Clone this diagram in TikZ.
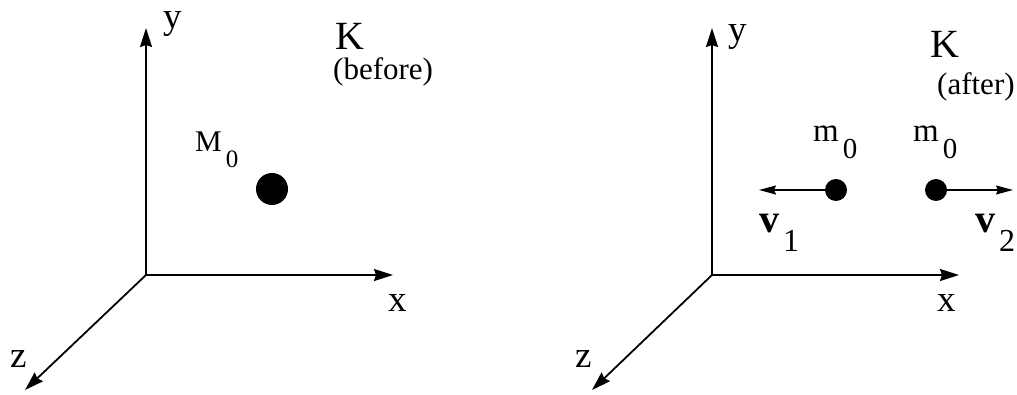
\documentclass[tikz,border=0pt]{standalone}
\usepackage{fontspec}
\setmainfont{Liberation Serif}
\usetikzlibrary{arrows.meta}
\newcommand{\fs}[1]{\fontsize{#1}{#1}\selectfont}
\newcommand{\lowsub}[3]{\kern4pt\raisebox{-#2pt}{\fs{#1}#3}}

\begin{document}
\begin{tikzpicture}[x=1pt,y=-1pt,
  axis/.style={-{Stealth[length=19pt,width=12pt,inset=2pt]},line width=1.8pt},
  vel/.style={-{Stealth[length=17pt,width=9pt,inset=2pt]},line width=1.3pt},
  lbl/.style={anchor=base west,inner sep=0pt},
  mass/.style={circle,fill=black,inner sep=0pt}]
\useasboundingbox (0,0) rectangle (1017,395);
% frame K before
\coordinate (o1) at (146,275);
\coordinate (y1) at (146,28);
\coordinate (x1) at (393,275);
\coordinate (z1) at (25,390);
\draw[axis] (o1) -- (y1);
\draw[axis] (o1) -- (x1);
\draw[axis] (o1) -- (z1);
\node[lbl,font=\fs{37}] (ylab1) at (163,29) {y};
\node[lbl,font=\fs{37}] (xlab1) at (388,312) {x};
\node[lbl,font=\fs{37}] (zlab1) at (10,367) {z};
\node[lbl,font=\fs{40}] (k1) at (335,50) {K};
\node[lbl,font=\fs{31}] (before) at (333,80) {(before)};
\node[mass,minimum size=32pt] (big) at (272,189) {};
\node[lbl,font=\fs{30}] (mbig) at (195,152) {M\lowsub{25}{16}{0}};
% frame K after
\coordinate (o2) at (712,275);
\coordinate (y2) at (712,28);
\coordinate (x2) at (959,275);
\coordinate (z2) at (592,390);
\draw[axis] (o2) -- (y2);
\draw[axis] (o2) -- (x2);
\draw[axis] (o2) -- (z2);
\node[lbl,font=\fs{37}] (ylab2) at (728,42) {y};
\node[lbl,font=\fs{37}] (xlab2) at (937,312) {x};
\node[lbl,font=\fs{37}] (zlab2) at (575,367) {z};
\node[lbl,font=\fs{40}] (k2) at (930,58) {K};
\node[lbl,font=\fs{31}] (after) at (937,95) {(after)};
\node[mass,minimum size=22pt] (left) at (836,190) {};
\node[mass,minimum size=22pt] (right) at (936,190) {};
\coordinate (v1end) at (759,190);
\coordinate (v2end) at (1013,190);
\draw[vel] (left) -- (v1end);
\draw[vel] (right) -- (v2end);
\node[lbl,font=\fs{33}] (mleft) at (813,142) {m\lowsub{29}{17}{0}};
\node[lbl,font=\fs{33}] (mright) at (913,142) {m\lowsub{29}{17}{0}};
\node[lbl,font=\fs{40}] (vleft) at (759,233) {\textbf{v}\lowsub{32}{19}{1}};
\node[lbl,font=\fs{40}] (vright) at (975,233) {\textbf{v}\lowsub{32}{19}{2}};
\end{tikzpicture}
\end{document}
